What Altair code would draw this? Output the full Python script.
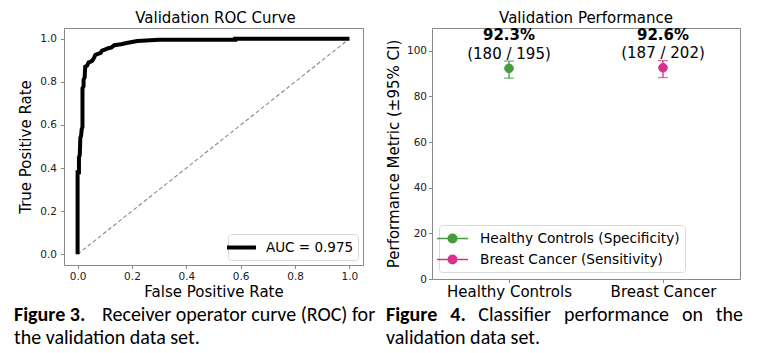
import altair as alt
import pandas as pd

# ---------------- data ----------------
# ROC curve (validation)
fpr = [0.0, 0.0, 0.005, 0.005, 0.008, 0.010, 0.013, 0.015, 0.018, 0.018, 0.022, 0.022,
       0.026, 0.028, 0.035, 0.040, 0.050, 0.055, 0.060, 0.065, 0.075, 0.085, 0.090,
       0.100, 0.110, 0.125, 0.135, 0.160, 0.180, 0.200, 0.220, 0.300, 0.580, 0.580, 1.0]
tpr = [0.0, 0.38, 0.38, 0.45, 0.46, 0.54, 0.55, 0.58, 0.59, 0.77, 0.78, 0.81,
       0.82, 0.87, 0.875, 0.89, 0.895, 0.90, 0.91, 0.925, 0.93, 0.935, 0.945,
       0.95, 0.955, 0.96, 0.97, 0.975, 0.98, 0.985, 0.99, 0.995, 0.995, 1.0, 1.0]
auc_label = "AUC = 0.975"
roc_ticks = [0.0, 0.2, 0.4, 0.6, 0.8, 1.0]

# Classifier performance
groups = ["Healthy Controls", "Breast Cancer"]
legend_labels = ["Healthy Controls (Specificity)", "Breast Cancer (Sensitivity)"]
pct = [92.3, 92.6]
ci_lo = [88.0, 88.3]
ci_hi = [95.5, 95.7]
pct_labels = ["92.3%", "92.6%"]
count_labels = ["(180 / 195)", "(187 / 202)"]
perf_ticks = [0, 20, 40, 60, 80, 100]
colors = ["#479a3d", "#d8318b"]

# titles and captions
title_roc = "Validation ROC Curve"
title_perf = "Validation Performance"
cap3_bold = "Figure 3."
cap3_rest = "Receiver operator curve (ROC) for"
cap3_line2 = "the validation data set."
cap4_words = ["Figure", "4.", "Classifier", "performance", "on", "the"]
cap4_line2 = "validation data set."

# ---------------- style ----------------
FONT = "DejaVu Sans"
CAPFONT = "Carlito, Lato, sans-serif"
CAPSIZE = 20

def txt(text, x, y, bold=False, align="left", font=CAPFONT, size=CAPSIZE):
    return alt.Chart(pd.DataFrame({"t": [text]})).mark_text(
        align=align, baseline="alphabetic", font=font, fontSize=size,
        fontWeight="bold" if bold else "normal", color="black"
    ).encode(x=alt.value(x), y=alt.value(y), text="t:N")

# ---------------- left: ROC ----------------
W1, H1 = 299, 237
roc_df = pd.DataFrame({"fpr": fpr, "tpr": tpr, "order": list(range(len(fpr))),
                       "lab": [auc_label] * len(fpr)})
diag_df = pd.DataFrame({"fpr": [0.0, 1.0], "tpr": [0.0, 1.0]})

xs = alt.Scale(domain=[-0.05, 1.05], nice=False, zero=False)
ys = alt.Scale(domain=[-0.05, 1.05], nice=False, zero=False)
xax = alt.Axis(values=roc_ticks, format=".1f", title="False Positive Rate",
               labelPadding=3, titlePadding=2)
yax = alt.Axis(values=roc_ticks, format=".1f", title="True Positive Rate",
               labelPadding=4, titlePadding=6)

diag = alt.Chart(diag_df).mark_line(color="#888888", strokeWidth=1.1, strokeDash=[4, 2.5]).encode(
    x=alt.X("fpr:Q", scale=xs, axis=xax),
    y=alt.Y("tpr:Q", scale=ys, axis=yax),
)
roc = alt.Chart(roc_df).mark_line(strokeWidth=4).encode(
    x=alt.X("fpr:Q", scale=xs, axis=xax),
    y=alt.Y("tpr:Q", scale=ys, axis=yax),
    order="order:Q",
    color=alt.Color("lab:N", scale=alt.Scale(domain=[auc_label], range=["black"]),
                    legend=alt.Legend(title=None, orient="bottom-right", offset=5,
                                      symbolType="M-2,0H2", symbolStrokeWidth=4,
                                      symbolSize=210, labelFontSize=13.5, labelOffset=15,
                                      labelFont=FONT, labelColor="black", labelLimit=0,
                                      strokeColor="#d9d9d9", cornerRadius=3,
                                      fillColor="white", padding=4)),
)

left = alt.layer(
    diag, roc,
    txt(title_roc, W1 / 2 + 2, -5, align="center", font=FONT, size=15),
    txt(cap3_bold, -50, 293, bold=True),
    txt(cap3_rest, 38, 293),
    txt(cap3_line2, -50, 316),
).properties(width=W1, height=H1)

# ---------------- right: performance ----------------
W2, H2 = 308, 251
perf_df = pd.DataFrame({"group": groups, "legend": legend_labels, "pct": pct,
                        "lo": ci_lo, "hi": ci_hi, "pct_label": pct_labels,
                        "count": count_labels})

xr_scale = alt.Scale(type="point", domain=groups, padding=0.5)
xr_axis = alt.Axis(title=None, labelAngle=0, labelFontSize=15, labelColor="black",
                   labelPadding=2)
yr_scale = alt.Scale(domain=[0, 110], nice=False, zero=True)
yr_axis = alt.Axis(values=perf_ticks, title="Performance Metric (±95% CI)",
                   labelPadding=2, titlePadding=5)
xr = alt.X("group:N", scale=xr_scale, axis=xr_axis)
grp_color = alt.Color("group:N", scale=alt.Scale(domain=groups, range=colors), legend=None)

rule = alt.Chart(perf_df).mark_rule(strokeWidth=1.3).encode(
    x=xr, y=alt.Y("lo:Q", scale=yr_scale, axis=yr_axis), y2="hi:Q", color=grp_color)
cap_lo = alt.Chart(perf_df).mark_tick(size=10, thickness=1.3).encode(
    x=xr, y=alt.Y("lo:Q", scale=yr_scale, axis=yr_axis), color=grp_color)
cap_hi = alt.Chart(perf_df).mark_tick(size=10, thickness=1.3).encode(
    x=xr, y=alt.Y("hi:Q", scale=yr_scale, axis=yr_axis), color=grp_color)

leg_scale = alt.Scale(domain=legend_labels, range=colors)
sym_path = "M-2,0H2M0.55,0A0.55,0.55,0,1,1,-0.55,0A0.55,0.55,0,1,1,0.55,0Z"
leg = alt.Legend(title=None, orient="bottom-left", offset=7, symbolType=sym_path,
                 symbolSize=240, symbolStrokeWidth=1.5, labelFontSize=13.7, labelFont=FONT,
                 labelColor="black", labelOffset=19, rowPadding=5, labelLimit=0,
                 strokeColor="#d9d9d9", cornerRadius=3, fillColor="white", padding=5)
pts = alt.Chart(perf_df).mark_point(filled=True, size=75, shape="circle", opacity=1,
                                    strokeWidth=1).encode(
    x=xr, y=alt.Y("pct:Q", scale=yr_scale, axis=yr_axis),
    fill=alt.Fill("legend:N", scale=leg_scale, legend=leg),
    stroke=alt.Stroke("legend:N", scale=leg_scale, legend=leg),
)
pct_text = alt.Chart(perf_df).mark_text(fontWeight="bold", fontSize=15, font=FONT,
                                        baseline="alphabetic", dy=-21, color="black").encode(
    x=xr, y=alt.Y("hi:Q", scale=yr_scale, axis=yr_axis), text="pct_label:N")
cnt_text = alt.Chart(perf_df).mark_text(fontSize=15, font=FONT, baseline="alphabetic",
                                        dy=-2.5, color="black").encode(
    x=xr, y=alt.Y("hi:Q", scale=yr_scale, axis=yr_axis), text="count:N")

cap4_x = [-46, 26, 82.6, 184.5, 260.6, 311]
cap4_align = ["left", "center", "center", "center", "center", "right"]
cap4_bold = [True, True, False, False, False, False]
cap4_layers = [txt(w, x, 293, bold=b, align=a)
               for w, x, a, b in zip(cap4_words, cap4_x, cap4_align, cap4_bold)]

right = alt.layer(
    rule, cap_lo, cap_hi, pts, pct_text, cnt_text,
    txt(title_perf, W2 / 2, -5, align="center", font=FONT, size=15),
    *cap4_layers,
    txt(cap4_line2, -46, 316),
).properties(width=W2, height=H2)

chart = alt.hconcat(left, right, spacing=69, bounds="flush").resolve_scale(
    color="independent", fill="independent", stroke="independent"
).resolve_legend(color="independent").properties(
    padding={"left": 13, "top": 10, "right": 5, "bottom": 5}
).configure_view(stroke="#888888", strokeWidth=1).configure_axis(
    grid=False, domain=False, tickColor="#888888", tickSize=3.5,
    labelFont=FONT, titleFont=FONT, labelFontSize=10.5, labelColor="#222222",
    titleFontSize=15, titleFontWeight="normal", titleColor="black"
)

chart.save("out.html", embed_options={"renderer": "svg", "actions": False})
